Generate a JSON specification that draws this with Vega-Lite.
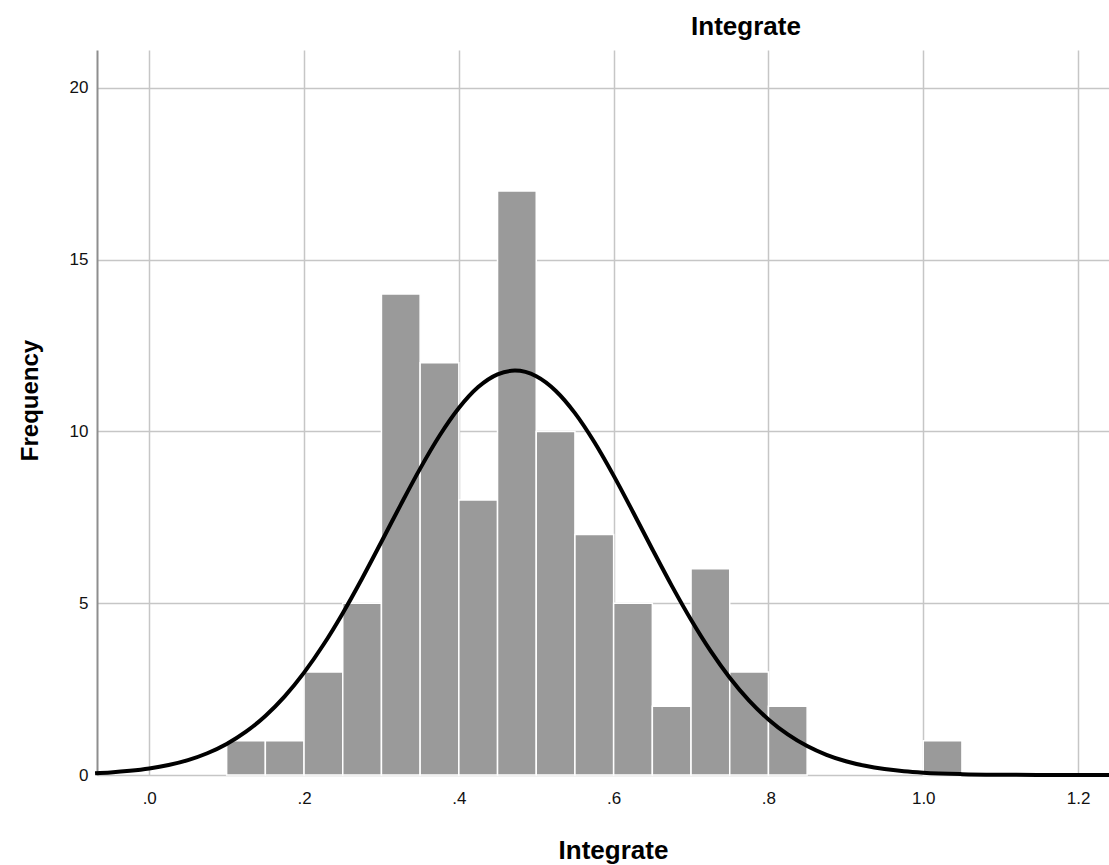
{
  "$schema": "https://vega.github.io/schema/vega-lite/v6.json",
  "width": 1012,
  "height": 725,
  "autosize": {"type": "none"},
  "padding": {"left": 97, "top": 50, "right": 0, "bottom": 90},
  "background": "white",
  "config": {"view": {"stroke": null}, "font": "Liberation Sans"},
  "title": {
    "text": "Integrate",
    "font": "Liberation Sans",
    "fontSize": 26,
    "fontWeight": "bold",
    "color": "#000000",
    "anchor": "middle",
    "dx": 143,
    "offset": -11,
    "baseline": "alphabetic"
  },
  "datasets": {
    "bins": [
      {"bin_start": 0.10, "bin_end": 0.15, "count": 1},
      {"bin_start": 0.15, "bin_end": 0.20, "count": 1},
      {"bin_start": 0.20, "bin_end": 0.25, "count": 3},
      {"bin_start": 0.25, "bin_end": 0.30, "count": 5},
      {"bin_start": 0.30, "bin_end": 0.35, "count": 14},
      {"bin_start": 0.35, "bin_end": 0.40, "count": 12},
      {"bin_start": 0.40, "bin_end": 0.45, "count": 8},
      {"bin_start": 0.45, "bin_end": 0.50, "count": 17},
      {"bin_start": 0.50, "bin_end": 0.55, "count": 10},
      {"bin_start": 0.55, "bin_end": 0.60, "count": 7},
      {"bin_start": 0.60, "bin_end": 0.65, "count": 5},
      {"bin_start": 0.65, "bin_end": 0.70, "count": 2},
      {"bin_start": 0.70, "bin_end": 0.75, "count": 6},
      {"bin_start": 0.75, "bin_end": 0.80, "count": 3},
      {"bin_start": 0.80, "bin_end": 0.85, "count": 2},
      {"bin_start": 1.00, "bin_end": 1.05, "count": 1}
    ],
    "curve": [
      {"x": -0.07, "density": 0.051},
      {"x": -0.05, "density": 0.075},
      {"x": -0.025, "density": 0.121},
      {"x": 0.0, "density": 0.189},
      {"x": 0.025, "density": 0.290},
      {"x": 0.05, "density": 0.433},
      {"x": 0.075, "density": 0.633},
      {"x": 0.1, "density": 0.904},
      {"x": 0.125, "density": 1.261},
      {"x": 0.15, "density": 1.718},
      {"x": 0.175, "density": 2.289},
      {"x": 0.2, "density": 2.980},
      {"x": 0.225, "density": 3.790},
      {"x": 0.25, "density": 4.710},
      {"x": 0.275, "density": 5.720},
      {"x": 0.3, "density": 6.787},
      {"x": 0.325, "density": 7.870},
      {"x": 0.35, "density": 8.917},
      {"x": 0.375, "density": 9.872},
      {"x": 0.4, "density": 10.679},
      {"x": 0.425, "density": 11.289},
      {"x": 0.45, "density": 11.660},
      {"x": 0.4725, "density": 11.770},
      {"x": 0.5, "density": 11.606},
      {"x": 0.525, "density": 11.185},
      {"x": 0.55, "density": 10.532},
      {"x": 0.575, "density": 9.691},
      {"x": 0.6, "density": 8.713},
      {"x": 0.625, "density": 7.655},
      {"x": 0.65, "density": 6.571},
      {"x": 0.675, "density": 5.512},
      {"x": 0.7, "density": 4.518},
      {"x": 0.725, "density": 3.618},
      {"x": 0.75, "density": 2.832},
      {"x": 0.775, "density": 2.165},
      {"x": 0.8, "density": 1.618},
      {"x": 0.825, "density": 1.182},
      {"x": 0.85, "density": 0.843},
      {"x": 0.875, "density": 0.588},
      {"x": 0.9, "density": 0.400},
      {"x": 0.925, "density": 0.267},
      {"x": 0.95, "density": 0.173},
      {"x": 0.975, "density": 0.110},
      {"x": 1.0, "density": 0.068},
      {"x": 1.05, "density": 0.025},
      {"x": 1.1, "density": 0.008},
      {"x": 1.15, "density": 0.002},
      {"x": 1.2, "density": 0.001},
      {"x": 1.24, "density": 0.0}
    ]
  },
  "layer": [
    {
      "data": {"name": "bins"},
      "mark": {"type": "rect", "color": "#9a9a9a", "stroke": "white", "strokeWidth": 1.5},
      "encoding": {
        "x": {
          "field": "bin_start",
          "type": "quantitative",
          "scale": {"domain": [-0.0675, 1.24], "nice": false, "zero": false, "padding": 0},
          "axis": {
            "values": [0, 0.2, 0.4, 0.6, 0.8, 1.0, 1.2],
            "labelExpr": "datum.value < 1 ? replace(format(datum.value, '.1f'), '0.', '.') : format(datum.value, '.1f')",
            "grid": true,
            "gridColor": "#c6c6c6",
            "gridWidth": 1.5,
            "domain": false,
            "ticks": false,
            "labelFont": "Liberation Sans",
            "labelFontSize": 17,
            "labelColor": "#111111",
            "labelPadding": 15,
            "labelFlush": false,
            "title": "Integrate",
            "titleFont": "Liberation Sans",
            "titleFontSize": 26,
            "titleFontWeight": "bold",
            "titleColor": "#000000",
            "titleX": 516,
            "titleY": 83,
            "titleBaseline": "alphabetic"
          }
        },
        "x2": {"field": "bin_end"},
        "y": {
          "field": "count",
          "type": "quantitative",
          "scale": {"domain": [0, 21.1], "nice": false, "zero": true, "padding": 0},
          "axis": {
            "values": [0, 5, 10, 15, 20],
            "format": "d",
            "grid": true,
            "gridColor": "#c6c6c6",
            "gridWidth": 1.5,
            "domainColor": "#8e8e8e",
            "domainWidth": 2,
            "ticks": false,
            "labelFont": "Liberation Sans",
            "labelFontSize": 17,
            "labelColor": "#111111",
            "labelPadding": 9,
            "labelFlush": false,
            "title": "Frequency",
            "titleFont": "Liberation Sans",
            "titleFontSize": 24,
            "titleFontWeight": "bold",
            "titleColor": "#000000",
            "titleAngle": 270,
            "titleX": -60,
            "titleY": 350,
            "titleBaseline": "alphabetic"
          }
        },
        "y2": {"datum": 0}
      }
    },
    {
      "mark": {"type": "rule", "color": "#8e8e8e", "strokeWidth": 2},
      "encoding": {"y": {"datum": 0}}
    },
    {
      "data": {"name": "curve"},
      "mark": {"type": "line", "color": "#000000", "strokeWidth": 4, "interpolate": "monotone"},
      "encoding": {
        "x": {"field": "x", "type": "quantitative"},
        "y": {"field": "density", "type": "quantitative"}
      }
    }
  ]
}
